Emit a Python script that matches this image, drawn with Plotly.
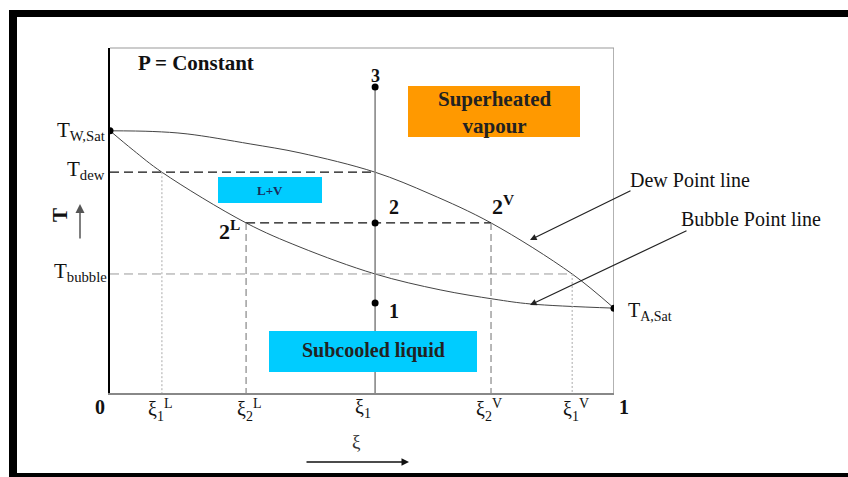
import plotly.graph_objects as go

# ---------------- data (ξ = mole fraction, T in arbitrary units 0-100) ----------------
XI_TICKS = [0.0, 0.103, 0.27, 0.526, 0.756, 0.917, 1.0]
XI_LABELS = ["<b>0</b>", "ξ<sub>1</sub><sup>L</sup>", "ξ<sub>2</sub><sup>L</sup>", "ξ<sub>1</sub>",
             "ξ<sub>2</sub><sup>V</sup>", "ξ<sub>1</sub><sup>V</sup>", "<b>1</b>"]
XI1L, XI2L, XI1, XI2V, XI1V = 0.103, 0.27, 0.526, 0.756, 0.917

T_W_SAT = 76.0
T_DEW = 64.0
T_2 = 49.3
T_BUBBLE = 34.5
T_A_SAT = 24.6
T_1 = 26.1
T_3 = 88.7

DEW_XI = [0.0, 0.085, 0.153, 0.278, 0.377, 0.526, 0.635, 0.756, 0.917, 1.0]
DEW_T = [76.0, 75.8, 75.1, 72.2, 69.6, 64.0, 57.7, 49.3, 34.5, 24.6]

BUB_XI = [0.0, 0.046, 0.103, 0.27, 0.377, 0.526, 0.655, 0.762, 0.835, 1.0]
BUB_T = [76.0, 70.4, 64.0, 49.3, 42.3, 34.5, 29.9, 27.2, 25.8, 24.6]

STATE_T = [T_1, T_2, T_3]

# ---------------- layout helpers ----------------
W, H = 848, 477
L, R, TOP, BOT = 110, 614, 48, 393


def px(x):
    return (x - L) / (R - L)


def py(y):
    return (BOT - y) / (BOT - TOP)


SERIF = "Liberation Serif, Times New Roman, serif"
fig = go.Figure()

# curves
fig.add_trace(go.Scatter(x=DEW_XI, y=DEW_T, mode="lines", line=dict(color="#444", width=1, shape="spline"),
                         hoverinfo="skip"))
fig.add_trace(go.Scatter(x=BUB_XI, y=BUB_T, mode="lines", line=dict(color="#444", width=1, shape="spline"),
                         hoverinfo="skip"))


def seg(x0, y0, x1, y1, color, width, dash):
    fig.add_trace(go.Scatter(x=[x0, x1], y=[y0, y1], mode="lines",
                             line=dict(color=color, width=width, dash=dash), hoverinfo="skip"))


seg(XI1, 0, XI1, T_3, "#888", 1.6, "solid")
seg(1.0, 0, 1.0, 100, "#999", 1.5, "solid")
seg(0, T_DEW, XI1, T_DEW, "#111", 1.3, "9px,5px")
seg(XI2L, T_2, XI2V, T_2, "#111", 1.3, "9px,5px")
seg(0, T_BUBBLE, XI1V, T_BUBBLE, "#999", 1, "9px,5px")
seg(XI1L, T_DEW, XI1L, 0, "#aaa", 1, "2px,2px")
seg(XI2L, T_2, XI2L, 0, "#888", 1.2, "7px,4px")
seg(XI2V, T_2, XI2V, 0, "#888", 1.2, "7px,4px")
seg(XI1V, T_BUBBLE, XI1V, 0, "#aaa", 1, "2px,2px")

# points
fig.add_trace(go.Scatter(x=[0.0, 1.0] + [XI1] * 3, y=[T_W_SAT, T_A_SAT] + STATE_T, mode="markers",
                         marker=dict(color="black", size=7), hoverinfo="skip"))

shapes = []
# outer frame
for x0, x1, y0, y1 in [(9, 855, 10, 17), (9, 17, 10, 485), (9, 855, 473, 485)]:
    shapes.append(dict(type="rect", xref="paper", yref="paper", x0=px(x0), x1=px(x1), y0=py(y0), y1=py(y1),
                       fillcolor="black", line=dict(width=0), layer="above"))
# coloured region boxes
boxes = [(218, 322, 177, 203, "#00CCFF"), (408, 580, 86, 137, "#FF9900"), (269, 477, 331, 372, "#00CCFF")]
for x0, x1, y0, y1, c in boxes:
    shapes.append(dict(type="rect", xref="paper", yref="paper", x0=px(x0), x1=px(x1), y0=py(y0), y1=py(y1),
                       fillcolor=c, line=dict(width=0), layer="above"))
# top border of the diagram box
shapes.append(dict(type="line", xref="paper", yref="paper", x0=0, x1=1, y0=1, y1=1,
                   line=dict(color="#999", width=1.2)))

ann = []


def text(x, y, t, size=17, xanchor="center", yanchor="middle", bold=False, color="#111", xref="paper",
         yref="paper", xshift=0, yshift=0, textangle=0):
    ann.append(dict(x=x, y=y, xref=xref, yref=yref, text=(f"<b>{t}</b>" if bold else t), showarrow=False,
                    xanchor=xanchor, yanchor=yanchor, xshift=xshift, yshift=yshift, textangle=textangle,
                    font=dict(family=SERIF, size=size, color=color)))


text(px(136), py(63), "P = Constant", size=21, xanchor="left", bold=True)
text(px(270), py(190), "L+V", size=13, bold=True, color="#1a2a5a")
text(px(494), py(112), "Superheated<br>vapour", size=21, bold=True, color="#222")
text(px(373), py(350), "Subcooled liquid", size=20, bold=True, color="#222")

# state labels
text(XI1, T_3, "3", size=18, bold=True, xref="x", yref="y", yshift=11)
text(XI1, T_2, "2", size=20, bold=True, xref="x", yref="y", xshift=19, yshift=16)
text(XI1, T_1, "1", size=20, bold=True, xref="x", yref="y", xshift=19, yshift=-8)
text(XI2L, T_2, "2<sup>L</sup>", size=22, bold=True, xref="x", yref="y", xanchor="right", xshift=-4, yshift=-7)
text(XI2V, T_2, "2<sup>V</sup>", size=22, bold=True, xref="x", yref="y", xshift=12, yshift=18)

# temperature labels
text(0, T_W_SAT, "T<sub>W,Sat</sub>", size=21, xref="paper", yref="y", xanchor="right", xshift=-3)
text(0, T_DEW, "T<sub>dew</sub>", size=21, xref="paper", yref="y", xanchor="right", xshift=-3, yshift=2)
text(0, T_BUBBLE, "T<sub>bubble</sub>", size=21, xref="paper", yref="y", xanchor="right", xshift=-1, yshift=2)
text(1, T_A_SAT, "T<sub>A,Sat</sub>", size=20, xref="paper", yref="y", xanchor="left", xshift=12, yshift=-3)

# ξ tick labels
shifts = [-10, -2, 3, -12, -2, 4, 10]
for v, lab, s in zip(XI_TICKS, XI_LABELS, shifts):
    text(v, 0, lab, size=20, xref="x", yref="y", yanchor="top", xshift=s, yshift=-1)

# axis names and arrows
text(px(60), py(215), "T", size=21, bold=True, textangle=-90)
ann.append(dict(x=px(80), y=py(204), xref="paper", yref="paper", ax=0, ay=36, text="", showarrow=True,
                arrowhead=2, arrowsize=1.2, arrowwidth=1.5, arrowcolor="#555"))
text(px(356), py(441), "ξ", size=19, color="#333")
ann.append(dict(x=px(409), y=py(462), xref="paper", yref="paper", ax=-104, ay=0, text="", showarrow=True,
                arrowhead=2, arrowsize=1, arrowwidth=1.5, arrowcolor="#111"))

# callouts
text(px(628), py(180), "Dew Point line", size=20, xanchor="left")
ann.append(dict(x=px(530), y=py(240), xref="paper", yref="paper", ax=102, ay=-50, text="", showarrow=True,
                arrowhead=2, arrowsize=1.1, arrowwidth=1.2, arrowcolor="#222"))
text(px(679), py(219), "Bubble Point line", size=20, xanchor="left")
ann.append(dict(x=px(530), y=py(305), xref="paper", yref="paper", ax=158, ay=-75, text="", showarrow=True,
                arrowhead=2, arrowsize=1.1, arrowwidth=1.2, arrowcolor="#222"))

fig.update_layout(
    width=W, height=H, margin=dict(l=L, r=W - R, t=TOP, b=H - BOT),
    paper_bgcolor="white", plot_bgcolor="white", showlegend=False,
    shapes=shapes, annotations=ann,
    xaxis=dict(range=[0, 1], showgrid=False, zeroline=False, showticklabels=False, ticks="",
               showline=True, linecolor="#888", linewidth=1.5, mirror=False, fixedrange=True),
    yaxis=dict(range=[0, 100], showgrid=False, zeroline=False, showticklabels=False, ticks="",
               showline=True, linecolor="black", linewidth=1.5, mirror=False, fixedrange=True),
)

fig.write_html("out.html", config={"displayModeBar": False},
               post_script="document.body.style.margin='0';document.body.style.overflow='hidden';")
